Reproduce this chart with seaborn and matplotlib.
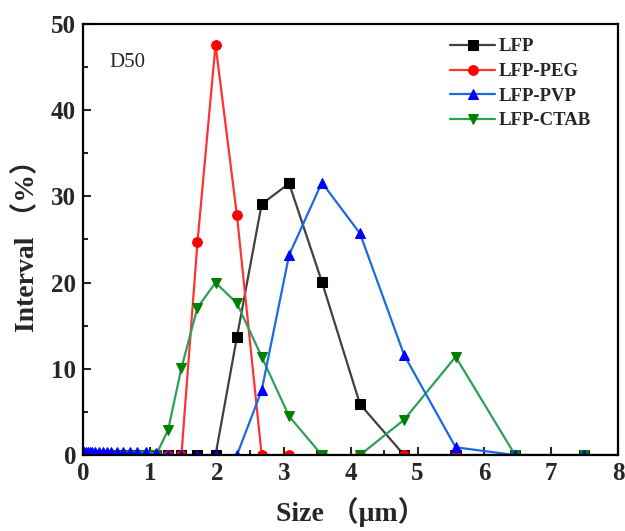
import matplotlib
matplotlib.use("Agg")
import matplotlib.pyplot as plt
from matplotlib.ticker import MultipleLocator
import seaborn as sns

# particle size grid (um)
sizes = [0.02, 0.04, 0.07, 0.10, 0.14, 0.18, 0.23, 0.29, 0.35, 0.42, 0.50,
         0.60, 0.70, 0.81, 0.94, 1.09, 1.27, 1.47, 1.71, 1.98, 2.30, 2.67,
         3.08, 3.57, 4.14, 4.80, 5.57, 6.46, 7.49, 8.69]

lfp = [0] * 19 + [0, 13.7, 29.1, 31.5, 20.1, 5.9, 0, 0, 0, 0, 0]
lfp_peg = [0] * 17 + [0, 24.7, 47.6, 27.8, 0, 0, 0, 0, 0, 0, 0, 0, 0]
lfp_pvp = [0.3] * 15 + [0.2, 0, 0, 0, 0, 0, 7.5, 23.2, 31.6, 25.7, 11.6, 0.9, 0, 0, 0]
lfp_ctab = [0] * 16 + [2.9, 10.1, 17.1, 20.0, 17.6, 11.4, 4.5, 0, 0, 4.1, 11.4, 0, 0, 0]

labels = ["LFP", "LFP-PEG", "LFP-PVP", "LFP-CTAB"]

sns.set_style("ticks")
plt.rcParams["font.family"] = ["Liberation Serif", "Noto Sans CJK SC"]
plt.rcParams["font.weight"] = "bold"
plt.rcParams["xtick.direction"] = "in"
plt.rcParams["ytick.direction"] = "in"

fig = plt.figure(figsize=(6.25, 5.31), dpi=100)
ax = fig.add_axes([0.133, 0.143, 0.856, 0.812])

styles = [
    (lfp, "#404040", "s", "black", 7),
    (lfp_peg, "#ff3333", "o", "red", 7),
    (lfp_ctab, "#2ca05a", "v", "green", 7.5),
    (lfp_pvp, "#1a6be0", "^", "blue", 7.5),
]
order = [labels[0], labels[1], labels[3], labels[2]]
for (vals, lc, mk, mc, ms), lab in zip(styles, order):
    sns.lineplot(x=sizes, y=vals, ax=ax, color=lc, marker=mk, markersize=ms,
                 markerfacecolor=mc, markeredgecolor=mc, linewidth=1.6,
                 label=lab, sort=False)

ax.set_xlim(0, 8)
ax.set_ylim(0, 50)
ax.xaxis.set_major_locator(MultipleLocator(1))
ax.xaxis.set_minor_locator(MultipleLocator(0.5))
ax.yaxis.set_major_locator(MultipleLocator(10))
ax.yaxis.set_minor_locator(MultipleLocator(5))
ax.tick_params(which="major", length=6, width=1.5, labelsize=18, pad=5)
ax.tick_params(which="minor", length=3.5, width=1.5)
for lbl in ax.get_xticklabels() + ax.get_yticklabels():
    lbl.set_fontweight("bold")
for sp in ax.spines.values():
    sp.set_linewidth(1.6)
    sp.set_color("black")

ax.set_xlabel("Size （μm）", fontsize=20, fontweight="bold", labelpad=9)
ax.set_ylabel("Interval （%）", fontsize=20, fontweight="bold", labelpad=8)
ax.text(0.4, 45, "D50", fontsize=15, fontweight="normal")

handles, labs = ax.get_legend_handles_labels()
lookup = dict(zip(labs, handles))
ax.legend([lookup[l] for l in labels], labels, loc="upper right", frameon=False,
          prop={"weight": "bold", "size": 13.5}, handlelength=2.4,
          handletextpad=0.2, labelspacing=0.4, borderaxespad=0.6,
          bbox_to_anchor=(0.985, 1.01))

fig.savefig("out.png", dpi=100)
